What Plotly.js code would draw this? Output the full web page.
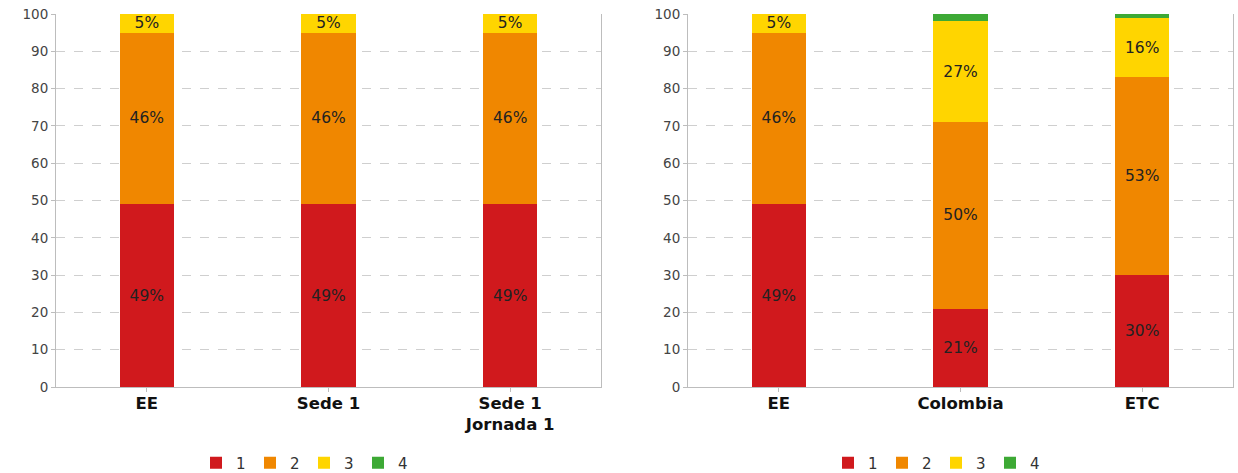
<!DOCTYPE html>
<html>
<head>
<meta charset="utf-8">
<script src="https://cdn.plot.ly/plotly-3.0.1.min.js"></script>
<style>html,body{margin:0;padding:0;background:#fff}#chart{width:1238px;height:473px}</style>
</head>
<body>
<div id="chart"></div>
<script>
const seriesNames = ['1', '2', '3', '4'];
const seriesColors = ['#D0191D', '#F08700', '#FFD500', '#3DA935'];

const leftCategories = ['EE', 'Sede 1', 'Sede 1<br>Jornada 1'];
const left1 = [49, 49, 49];
const left2 = [46, 46, 46];
const left3 = [5, 5, 5];
const left4 = [0, 0, 0];

const rightCategories = ['EE', 'Colombia', 'ETC'];
const right1 = [49, 21, 30];
const right2 = [46, 50, 53];
const right3 = [5, 27, 16];
const right4 = [0, 2, 1];

const yTicks = [0, 10, 20, 30, 40, 50, 60, 70, 80, 90, 100];

const FONT = 'DejaVu Sans, Verdana, sans-serif';

function makeTraces(cats, seriesValues, xa, ya, legendId) {
  return seriesValues.map((vals, i) => ({
    type: 'bar',
    name: seriesNames[i],
    x: cats,
    y: vals,
    xaxis: xa,
    yaxis: ya,
    legend: legendId,
    width: 0.3,
    marker: {color: seriesColors[i], line: {width: 0}},
    text: i === 3 ? vals.map(() => '') : vals.map(v => v > 0 ? v + '%' : ''),
    textposition: i === 3 ? 'none' : 'inside',
    insidetextanchor: 'middle',
    textangle: 0,
    textfont: {family: FONT, size: 15.5, color: '#222'},
    hoverinfo: 'name+y'
  }));
}

const traces = [
  ...makeTraces(leftCategories, [left1, left2, left3, left4], 'x', 'y', 'legend'),
  ...makeTraces(rightCategories, [right1, right2, right3, right4], 'x2', 'y2', 'legend2')
];

const W = 1238;
const xAxisBase = {
  type: 'category',
  showgrid: false,
  showline: true,
  linecolor: '#bdbdbd',
  linewidth: 1,
  ticks: 'outside',
  ticklen: 4,
  tickcolor: '#bdbdbd',
  ticklabelstandoff: -3,
  tickfont: {family: FONT, size: 16.5, color: '#111', weight: 'bold'},
  automargin: false,
  fixedrange: true
};
const yAxisBase = {
  range: [0, 100],
  tickvals: yTicks,
  ticktext: yTicks.map(String),
  showgrid: true,
  gridcolor: '#cfcfcf',
  griddash: 'dash',
  gridwidth: 1,
  showline: true,
  mirror: true,
  linecolor: '#bdbdbd',
  linewidth: 1,
  ticks: 'outside',
  ticklen: 4,
  tickcolor: '#bdbdbd',
  zeroline: false,
  tickfont: {family: FONT, size: 13.5, color: '#444'},
  automargin: false,
  fixedrange: true
};

const legendBase = {
  orientation: 'h',
  traceorder: 'normal',
  xanchor: 'center',
  yanchor: 'middle',
  yref: 'container',
  y: (473 - 463) / 473,
  font: {family: FONT, size: 15, color: '#333'},
  itemwidth: 30,
  entrywidth: 9,
  tracegroupgap: 0,
  bgcolor: 'rgba(0,0,0,0)'
};

const layout = {
  width: W,
  height: 473,
  margin: {l: 0, r: 0, t: 14, b: 86, autoexpand: false},
  paper_bgcolor: '#fff',
  plot_bgcolor: '#fff',
  barmode: 'stack',
  showlegend: true,
  uniformtext: {mode: 'show', minsize: 15.5},
  xaxis: Object.assign({}, xAxisBase, {domain: [56 / W, 601 / W], anchor: 'y'}),
  yaxis: Object.assign({}, yAxisBase, {anchor: 'x'}),
  xaxis2: Object.assign({}, xAxisBase, {domain: [688 / W, 1233 / W], anchor: 'y2'}),
  yaxis2: Object.assign({}, yAxisBase, {anchor: 'x2'}),
  legend: Object.assign({}, legendBase, {x: 304 / W}),
  legend2: Object.assign({}, legendBase, {x: 936 / W})
};

Plotly.newPlot('chart', traces, layout, {displayModeBar: false, staticPlot: true});
</script>
</body>
</html>
